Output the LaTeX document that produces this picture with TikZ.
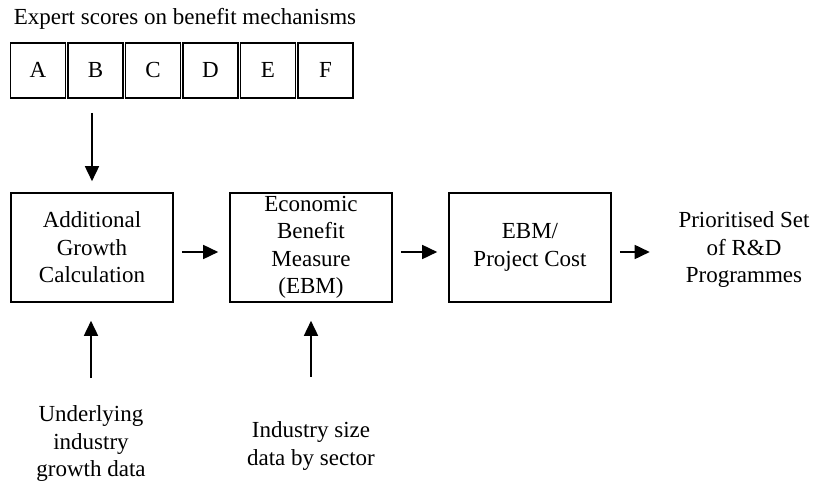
\documentclass[tikz,border=0pt]{standalone}
\usepackage{fontspec}
\setmainfont{Liberation Serif}
\usetikzlibrary{arrows.meta}

\begin{document}
\begin{tikzpicture}[x=1pt,y=-1pt,
	font=\fontsize{23}{27.5}\selectfont,
	line width=1.6pt,
	>={Triangle[length=15pt,width=14pt]},
	score/.style={rectangle,draw,minimum width=55pt,minimum height=55pt,inner sep=0pt,text height=15pt,text depth=0pt},
	stage/.style={rectangle,draw,minimum width=162pt,minimum height=109pt,align=center,inner sep=0pt},
	info/.style={align=center,inner sep=0pt}]

		\useasboundingbox (0,0) rectangle (817,484);

		\node[anchor=west,inner sep=0pt] (title) at (13,19) {Expert scores on benefit mechanisms};
		\node[score] (A) at (38,70.5) {A};
		\node[score] (B) at (95.5,70.5) {B};
		\node[score] (C) at (153,70.5) {C};
		\node[score] (D) at (210.5,70.5) {D};
		\node[score] (E) at (268,70.5) {E};
		\node[score] (F) at (325.5,70.5) {F};

		\node[stage] (growth) at (92,247.5) {Additional\\Growth\\Calculation};
		\node[stage] (ebm) at (311,247.5) {Economic\\Benefit\\Measure\\(EBM)};
		\node[stage] (ratio) at (530,247.5) {EBM/\\Project Cost};
		\node[info] (prio) at (744,250) {Prioritised Set\\of R\&D\\Programmes};

		\node[info] (under) at (91,444) {Underlying\\industry\\growth data};
		\node[info] (size) at (311,446) {Industry size\\data by sector};

		\path[->,shorten <=14pt,shorten >=11pt] (growth.north |- B.south) edge (growth.north);
		\path[->,shorten <=8pt,shorten >=11pt] ([yshift=-4.5pt]growth.east) edge ([yshift=-4.5pt]ebm.west);
		\path[->,shorten <=8pt,shorten >=11pt] ([yshift=-4.5pt]ebm.east) edge ([yshift=-4.5pt]ratio.west);
		\path[->,shorten <=8pt,shorten >=28pt] ([yshift=-4.5pt]ratio.east) edge ([yshift=-4.5pt]ratio.east -| prio.west);
		\path[->,shorten <=27pt,shorten >=18pt] (under.north) edge (under.north |- growth.south);
		\path[->,shorten <=44pt,shorten >=18pt] (size.north) edge (size.north |- ebm.south);

	\end{tikzpicture}
\end{document}
